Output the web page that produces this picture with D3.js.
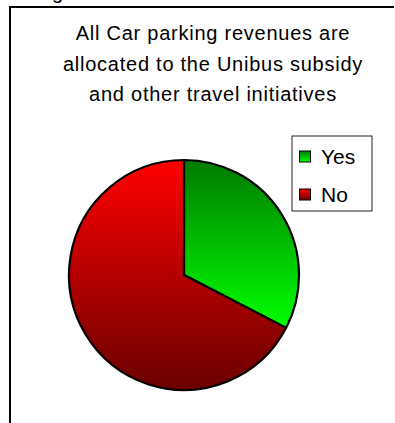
<!DOCTYPE html>
<html>
<head>
<meta charset="utf-8">
<script src="https://cdn.jsdelivr.net/npm/d3@7"></script>
<style>
  html, body { margin: 0; padding: 0; background: #fff; }
  svg { display: block; }
  text { font-family: "Liberation Sans", Arial, sans-serif; fill: #000; }
</style>
</head>
<body>
<svg id="chart" width="395" height="423"></svg>
<script>
// Survey answers
const categories = ["Yes", "No"];
const values = [32.6, 67.4];

// Gradient stops per slice (top colour, bottom colour)
const gradientTop = ["#007a00", "#ff0000"];
const gradientBottom = ["#00ff00", "#6a0000"];

const titleLines = [
  "All Car parking revenues are",
  "allocated to the Unibus subsidy",
  "and other travel initiatives"
];

const svg = d3.select("#chart");
const defs = svg.append("defs");

categories.forEach((c, i) => {
  const g = defs.append("linearGradient")
    .attr("id", "grad-" + i)
    .attr("x1", 0).attr("y1", 0).attr("x2", 0).attr("y2", 1);
  g.append("stop").attr("offset", "0%").attr("stop-color", gradientTop[i]);
  g.append("stop").attr("offset", "100%").attr("stop-color", gradientBottom[i]);
});

// Descender of text sitting above the frame
svg.append("text")
  .attr("x", 52).attr("y", -1)
  .style("font-size", "20px")
  .text("g");

// Chart frame (left and top edges)
svg.append("path")
  .attr("d", "M10,423 L10,7 L394,7")
  .attr("fill", "none")
  .attr("stroke", "#000")
  .attr("stroke-width", 2);

// Title
const title = svg.append("text")
  .attr("text-anchor", "middle")
  .style("font-size", "20px")
  .style("letter-spacing", "0.75px");
titleLines.forEach((t, i) => {
  title.append("tspan")
    .attr("x", 213)
    .attr("y", 40 + i * 30.5)
    .text(t);
});

// Pie
const cx = 184, cy = 275, radius = 115;
const pie = d3.pie().sort(null).value(d => d);
const arc = d3.arc().innerRadius(0).outerRadius(radius);

svg.append("g")
  .attr("transform", `translate(${cx},${cy})`)
  .selectAll("path")
  .data(pie(values))
  .join("path")
  .attr("d", arc)
  .attr("fill", (d, i) => `url(#grad-${i})`)
  .attr("stroke", "#000")
  .attr("stroke-width", 2.2)
  .attr("stroke-linejoin", "round");

// Legend
const legend = svg.append("g").attr("transform", "translate(292,136)");
legend.append("rect")
  .attr("x", 0).attr("y", 0)
  .attr("width", 80).attr("height", 75)
  .attr("fill", "#fff")
  .attr("stroke", "#222")
  .attr("stroke-width", 1);

const item = legend.selectAll("g.item")
  .data(categories)
  .join("g")
  .attr("class", "item")
  .attr("transform", (d, i) => `translate(0,${20.5 + i * 38})`);

item.append("rect")
  .attr("x", 7.5).attr("y", -5.5)
  .attr("width", 11).attr("height", 11)
  .attr("fill", (d, i) => `url(#grad-${i})`)
  .attr("stroke", "#000")
  .attr("stroke-width", 1);

item.append("text")
  .attr("x", 29)
  .attr("y", 7.5)
  .style("font-size", "21px")
  .text(d => d);
</script>
</body>
</html>
